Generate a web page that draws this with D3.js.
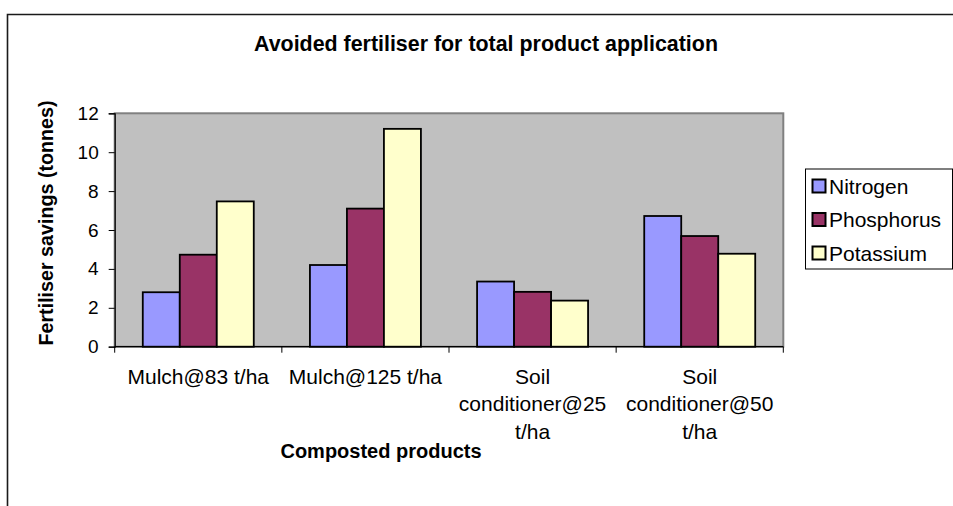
<!DOCTYPE html>
<html>
<head>
<meta charset="utf-8">
<script src="https://cdn.jsdelivr.net/npm/d3@7/dist/d3.min.js"></script>
<style>
  html, body { margin: 0; padding: 0; background: #fff; }
  svg { display: block; font-family: "Liberation Sans", Arial, sans-serif; }
</style>
</head>
<body>
<svg id="chart" width="953" height="506"></svg>
<script>
// Data
const categories = [
  ["Mulch@83 t/ha"],
  ["Mulch@125 t/ha"],
  ["Soil", "conditioner@25", "t/ha"],
  ["Soil", "conditioner@50", "t/ha"]
];
const seriesNames = ["Nitrogen", "Phosphorus", "Potassium"];
const seriesColors = ["#9999FF", "#993366", "#FFFFCC"];
const nitrogen   = [2.8, 4.2, 3.35, 6.72];
const phosphorus = [4.73, 7.1, 2.82, 5.69];
const potassium  = [7.47, 11.2, 2.37, 4.78];
const yTicks = [0, 2, 4, 6, 8, 10, 12];

const seriesValues = [nitrogen, phosphorus, potassium];

const svg = d3.select("#chart");

// Outer frame (top and left edges)
svg.append("path")
  .attr("d", "M953,14.5H7.5V506")
  .attr("fill", "none")
  .attr("stroke", "#1a1a1a")
  .attr("stroke-width", 1.6);

const plot = { left: 114.7, right: 783.3, top: 113.3, bottom: 346.7 };

const x0 = d3.scaleBand()
  .domain(d3.range(categories.length))
  .range([plot.left, plot.right])
  .padding(0);

const bw = x0.bandwidth();
const x1 = d3.scaleBand()
  .domain(d3.range(seriesNames.length))
  .range([bw * 0.168, bw * 0.832])
  .padding(0);

const y = d3.scaleLinear().domain([0, 12]).range([plot.bottom, plot.top]);

// Plot area background
svg.append("rect")
  .attr("x", plot.left).attr("y", plot.top)
  .attr("width", plot.right - plot.left)
  .attr("height", plot.bottom - plot.top)
  .attr("fill", "#C0C0C0")
  .attr("stroke", "#808080")
  .attr("stroke-width", 2);

// Bars
const groups = svg.append("g").selectAll("g")
  .data(categories.map((c, i) => i))
  .join("g")
  .attr("transform", i => `translate(${x0(i)},0)`);

groups.selectAll("rect")
  .data(i => seriesValues.map((vals, s) => ({ s, v: vals[i] })))
  .join("rect")
  .attr("x", d => x1(d.s))
  .attr("y", d => y(d.v))
  .attr("width", x1.bandwidth())
  .attr("height", d => y(0) - y(d.v))
  .attr("fill", d => seriesColors[d.s])
  .attr("stroke", "#000")
  .attr("stroke-width", 1.8);

// Y axis
const yAxis = d3.axisLeft(y).tickValues(yTicks).tickSize(6).tickPadding(10).tickFormat(d3.format("d"));
const gy = svg.append("g")
  .attr("transform", `translate(${plot.left},0)`)
  .call(yAxis);
gy.select(".domain").attr("stroke", "#000").attr("stroke-width", 1.2);
gy.selectAll(".tick line").attr("stroke", "#000");
gy.selectAll(".tick text")
  .attr("font-size", 19)
  .attr("font-family", "'Liberation Sans', Arial, sans-serif")
  .attr("fill", "#000");

// X axis: ticks at category boundaries
const boundaries = d3.range(categories.length + 1).map(i => plot.left + i * bw);
const gx = svg.append("g");
gx.append("line")
  .attr("x1", plot.left).attr("x2", plot.right)
  .attr("y1", plot.bottom).attr("y2", plot.bottom)
  .attr("stroke", "#000").attr("stroke-width", 1.2);
gx.selectAll("line.tick")
  .data(boundaries)
  .join("line")
  .attr("class", "tick")
  .attr("x1", d => d).attr("x2", d => d)
  .attr("y1", plot.bottom).attr("y2", plot.bottom + 6)
  .attr("stroke", "#000");

// Category labels
const catLabels = svg.append("g")
  .attr("font-size", 21)
  .attr("fill", "#000")
  .attr("text-anchor", "middle");
categories.forEach((lines, i) => {
  const t = catLabels.append("text")
    .attr("x", x0(i) + bw / 2)
    .attr("y", 384);
  lines.forEach((ln, k) => {
    t.append("tspan")
      .attr("x", x0(i) + bw / 2)
      .attr("dy", k === 0 ? 0 : 27.4)
      .text(ln);
  });
});

// Titles
svg.append("text")
  .attr("x", 486).attr("y", 51)
  .attr("text-anchor", "middle")
  .attr("font-size", 21.4)
  .attr("font-weight", "bold")
  .text("Avoided fertiliser for total product application");

svg.append("text")
  .attr("x", 381).attr("y", 458)
  .attr("text-anchor", "middle")
  .attr("font-size", 20)
  .attr("font-weight", "bold")
  .text("Composted products");

svg.append("text")
  .attr("transform", "translate(53,223) rotate(-90)")
  .attr("text-anchor", "middle")
  .attr("font-size", 19.7)
  .attr("font-weight", "bold")
  .text("Fertiliser savings (tonnes)");

// Legend
const legend = svg.append("g");
legend.append("rect")
  .attr("x", 805.5).attr("y", 169)
  .attr("width", 147).attr("height", 100)
  .attr("fill", "#fff")
  .attr("stroke", "#000")
  .attr("stroke-width", 1);
const legendY = d3.scalePoint().domain(seriesNames).range([186, 253]);
const items = legend.selectAll("g.item")
  .data(seriesNames)
  .join("g")
  .attr("class", "item")
  .attr("transform", d => `translate(0,${legendY(d)})`);
items.append("rect")
  .attr("x", 812.5).attr("y", -6.5)
  .attr("width", 13).attr("height", 13)
  .attr("fill", (d, i) => seriesColors[i])
  .attr("stroke", "#000")
  .attr("stroke-width", 2);
items.append("text")
  .attr("x", 829).attr("y", 7.5)
  .attr("font-size", 21)
  .attr("fill", "#000")
  .text(d => d);
</script>
</body>
</html>
